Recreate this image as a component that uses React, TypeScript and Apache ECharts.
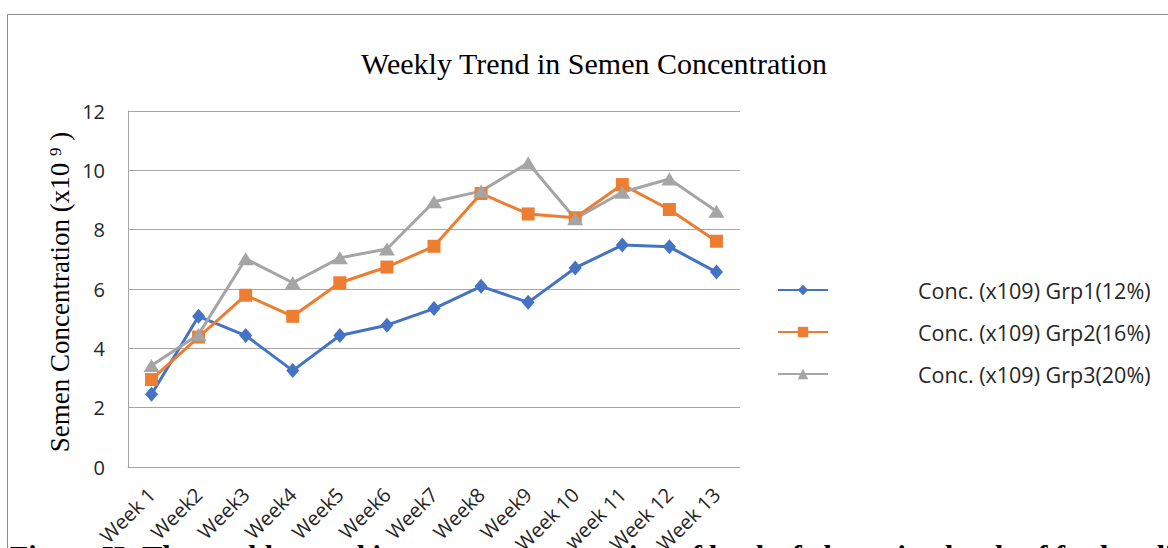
import React, { useEffect, useRef } from "react";
import * as echarts from "echarts";

const weeks = ["Week 1", "Week2", "Week3", "Week4", "Week5", "Week6", "Week7", "Week8", "Week9", "Week 10", "week 11", "Week 12", "Week 13"];
const grp1 = [2.45, 5.08, 4.43, 3.25, 4.43, 4.78, 5.34, 6.09, 5.55, 6.71, 7.48, 7.42, 6.57];
const grp2 = [2.95, 4.38, 5.79, 5.08, 6.21, 6.74, 7.44, 9.22, 8.53, 8.4, 9.52, 8.68, 7.61];
const grp3 = [3.42, 4.47, 7.02, 6.21, 7.05, 7.35, 8.94, 9.3, 10.25, 8.37, 9.26, 9.71, 8.62];
const seriesNames = ["Conc. (x109) Grp1(12%)", "Conc. (x109) Grp2(16%)", "Conc. (x109) Grp3(20%)"];
const yTicks = [0, 2, 4, 6, 8, 10, 12];
const titleText = "Weekly Trend in Semen Concentration";
const captionText = "Figure II: The weekly trend in semen concentration of bucks fed varying levels of feed at different";

const SANS = "'Open Sans', 'Noto Sans', sans-serif";
const SERIF = "'Liberation Serif', 'DejaVu Serif', serif";

export default function App() {
  const ref = useRef<HTMLDivElement>(null);
  useEffect(() => {
    if (!ref.current) return;
    const chart = echarts.init(ref.current, null, { renderer: "svg" });
    const colors = ["#4472C4", "#ED7D31", "#A5A5A5"];
    const symbols = ["diamond", "rect", "triangle"];
    const sizes: any[] = [[13, 15], 13, [16, 13]];
    const data = [grp1, grp2, grp3];
    chart.setOption({
      animation: false,
      color: colors,
      grid: { left: 128, top: 111, right: 428, bottom: 81, containLabel: false, outerBoundsMode: "none" },
      xAxis: {
        type: "category",
        data: weeks,
        boundaryGap: true,
        axisLine: { show: true, lineStyle: { color: "#a6a6a6", width: 1 } },
        axisTick: { show: false },
        axisLabel: { rotate: 45, fontSize: 20, fontFamily: SANS, color: "#262626", margin: 24, interval: 0 },
      },
      yAxis: {
        type: "value",
        min: yTicks[0],
        max: yTicks[yTicks.length - 1],
        interval: yTicks[1] - yTicks[0],
        axisLine: { show: true, lineStyle: { color: "#a6a6a6", width: 1 } },
        axisTick: { show: false },
        splitLine: { show: true, lineStyle: { color: "#a6a6a6", width: 1 } },
        axisLabel: { fontSize: 20, fontFamily: SANS, color: "#262626", margin: 23 },
      },
      legend: {
        orient: "vertical",
        left: 777,
        top: 278,
        padding: 0,
        itemWidth: 50,
        itemHeight: 13,
        itemGap: 18,
        data: seriesNames,
        textStyle: { fontSize: 21.5, fontFamily: SANS, color: "#262626", padding: [0, 0, 0, 85], lineHeight: 24 },
      },
      series: data.map((d, i) => ({
        name: seriesNames[i],
        type: "line",
        data: d,
        symbol: symbols[i],
        symbolSize: sizes[i],
        showSymbol: true,
        lineStyle: { width: 3, color: colors[i] },
        itemStyle: { color: colors[i] },
      })),
      graphic: [
        {
          type: "rect",
          shape: { x: 7.5, y: 14.5, width: 1200, height: 600 },
          style: { fill: "none", stroke: "#8c8c8c", lineWidth: 1 },
          silent: true,
          z: -10,
        },
        {
          type: "text",
          x: 594,
          y: 63,
          style: { text: titleText, fontSize: 30, fontFamily: SERIF, fill: "#000", textAlign: "center", textVerticalAlign: "middle" },
        },
        {
          type: "text",
          x: 60,
          y: 292,
          rotation: Math.PI / 2,
          style: {
            text: "{m|Semen Concentration (x10 }{sup|9}{m| )}",
            fill: "#000",
            textAlign: "center",
            textVerticalAlign: "middle",
            rich: {
              m: { fontSize: 27, fontFamily: SERIF, fill: "#000", color: "#000" },
              sup: { fontSize: 17, fontFamily: SERIF, fill: "#000", color: "#000", verticalAlign: "top", padding: [0, 0, 10, 0] },
            },
          },
        },
        {
          type: "text",
          x: 10,
          y: 555,
          z: -5,
          style: { text: captionText, fontSize: 30, fontWeight: "bold", fontFamily: SERIF, fill: "#000", textAlign: "left", textVerticalAlign: "middle" },
        },
      ],
    });
    return () => chart.dispose();
  }, []);
  return <div ref={ref} style={{ position: "absolute", left: 0, top: 0, width: 1168, height: 548, background: "#fff" }} />;
}
